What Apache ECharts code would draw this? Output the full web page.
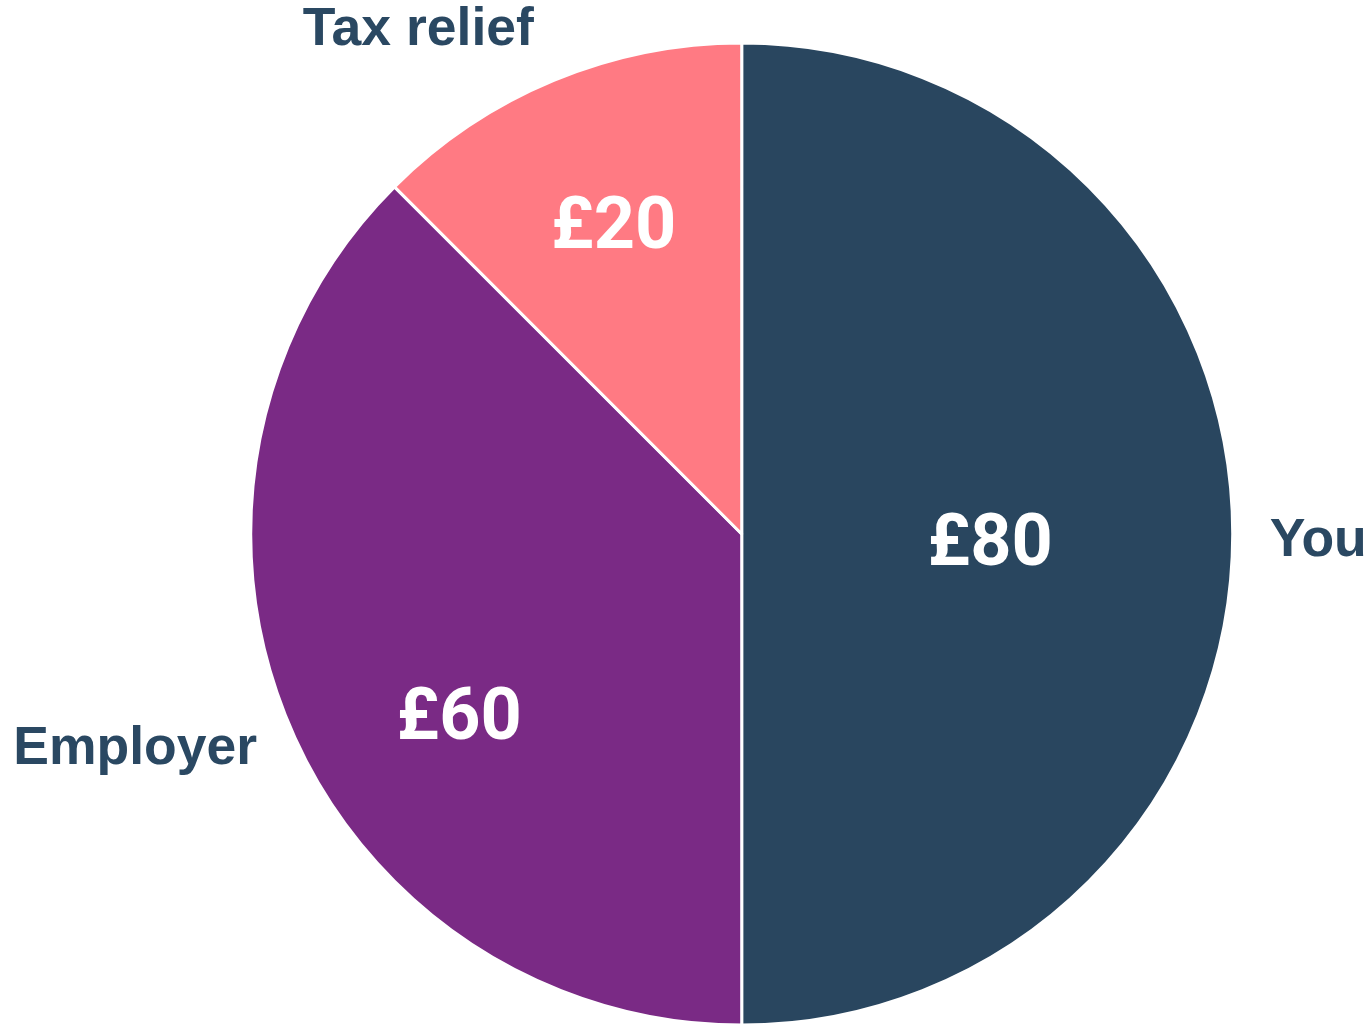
<!DOCTYPE html>
<html>
<head>
<meta charset="utf-8">
<style>html,body{margin:0;padding:0;background:#fff;}#c{width:1371px;height:1029px;}</style>
<script src="https://cdn.jsdelivr.net/npm/echarts@6/dist/echarts.min.js"></script>
</head>
<body>
<div id="c"></div>
<script>
const categories = ['You', 'Employer', 'Tax relief'];
const values = [80, 60, 20];
const valueLabels = ['£80', '£60', '£20'];
const colors = ['#29465f', '#7a2a85', '#ff7a83'];

const innerOffsets = [[0, 13], [-53, 92], [-33, -74]];
const outerOffsets = [[32, 7], [-26, 27], [-15, -50]];

const chart = echarts.init(document.getElementById('c'));
const baseData = categories.map((name, i) => ({
  name, value: values[i], itemStyle: { color: colors[i] }
}));
chart.setOption({
  animation: false,
  series: [
    {
      type: 'pie',
      center: ['54.1%', '51.9%'],
      radius: 491,
      startAngle: 90,
      clockwise: true,
      silent: true,
      itemStyle: { borderColor: '#ffffff', borderWidth: 3 },
      label: {
        position: 'inside',
        formatter: p => valueLabels[p.dataIndex],
        color: '#ffffff',
        fontFamily: 'Roboto',
        fontWeight: 'bold',
        fontSize: 72
      },
      labelLayout: p => ({ dx: innerOffsets[p.dataIndex][0], dy: innerOffsets[p.dataIndex][1] }),
      data: baseData
    },
    {
      type: 'pie',
      center: ['54.1%', '51.9%'],
      radius: 491,
      startAngle: 90,
      clockwise: true,
      silent: true,
      itemStyle: { color: 'rgba(0,0,0,0)', borderWidth: 0 },
      label: {
        position: 'outside',
        formatter: '{b}',
        color: '#2a4862',
        fontFamily: 'Liberation Sans',
        fontWeight: 'bold',
        fontSize: 53.5
      },
      labelLine: { show: false, length: 0, length2: 0 },
      labelLayout: p => ({ dx: outerOffsets[p.dataIndex][0], dy: outerOffsets[p.dataIndex][1] }),
      data: categories.map((name, i) => ({ name, value: values[i] }))
    }
  ]
});
</script>
</body>
</html>
